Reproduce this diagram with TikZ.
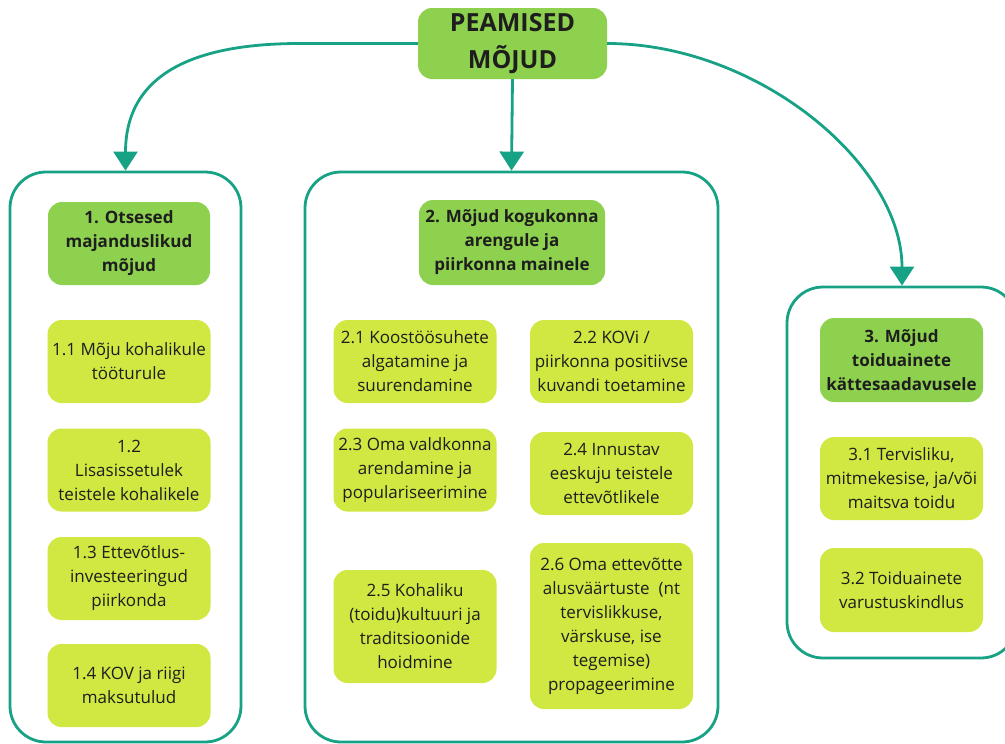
\documentclass[tikz,border=0pt]{standalone}
\usepackage{fontspec}
\setmainfont{Open Sans}
\usetikzlibrary{arrows.meta,positioning}

\definecolor{tealline}{HTML}{17A285}
\definecolor{headgreen}{HTML}{8ED14F}
\definecolor{limebox}{HTML}{D1E742}
\definecolor{inktext}{HTML}{1E1E1E}

\tikzset{conn/.style={draw=tealline,line width=2.8pt,
	-{Triangle[width=24pt,length=19pt]}}}

\begin{document}
\begin{tikzpicture}[x=1pt,y=-1pt]
			\clip (0,0) rectangle (1005,744);

			% group frames
			\begin{scope}[every node/.style={draw=tealline,line width=2.8pt,fill=white,
				rounded corners=36pt,inner sep=0pt}]
				\node[minimum width=231pt,minimum height=570pt] (G1) at (125.5,457) {};
				\node[minimum width=413pt,minimum height=570pt] (G2) at (511.5,457) {};
				\node[minimum width=230pt,minimum height=371pt] (G3) at (902,472.5) {};
			\end{scope}

			% main and group headers
			\begin{scope}[every node/.style={fill=headgreen,rounded corners=14pt,inner sep=0pt,
				align=center,text=inktext,font=\bfseries\fontsize{17}{24}\selectfont}]
				\node[minimum width=189pt,minimum height=71pt,
					font=\bfseries\fontsize{25}{37}\selectfont] (top) at (512.5,43.5) {PEAMISED\\MÕJUD};
				\node[minimum width=162pt,minimum height=83pt] (H1) at (129,243.5) {1. Otsesed\\majanduslikud\\mõjud};
				\node[minimum width=186pt,minimum height=85pt] (H2) at (512,242.5) {2. Mõjud kogukonna\\arengule ja\\piirkonna mainele};
				\node[minimum width=163pt,minimum height=84pt] (H3) at (901.5,360) {3. Mõjud\\toiduainete\\kättesaadavusele};
			\end{scope}

			% sub boxes
			\begin{scope}[every node/.style={fill=limebox,rounded corners=14pt,inner sep=0pt,
				minimum width=163pt,minimum height=83pt,
				align=center,text=inktext,font=\fontsize{17}{24}\selectfont}]
				\node (A1) at (129,361.5) {1.1 Mõju kohalikule\\tööturule};
				\node (A2) at (129,470) {1.2\\Lisasissetulek\\teistele kohalikele};
				\node (A3) at (129,578.5) {1.3 Ettevõtlus-\\investeeringud\\piirkonda};
				\node (A4) at (129,685.5) {1.4 KOV ja riigi\\maksutulud};
				\node (B1) at (415,361.5) {2.1 Koostöösuhete\\algatamine ja\\suurendamine};
				\node (B2) at (611.5,361.5) {2.2 KOVi /\\piirkonna positiivse\\kuvandi toetamine};
				\node (B3) at (415,470) {2.3 Oma valdkonna\\arendamine ja\\populariseerimine};
				\node (B4) at (611.5,473.5) {2.4 Innustav\\eeskuju teistele\\ettevõtlikele};
				\node[minimum height=113pt] (B5) at (415,626.5) {2.5 Kohaliku\\(toidu)kultuuri ja\\traditsioonide\\hoidmine};
				\node[minimum height=166pt] (B6) at (611.5,626) {2.6 Oma ettevõtte\\alusväärtuste~ (nt\\tervislikkuse,\\värskuse, ise\\tegemise)\\propageerimine};
				\node (C1) at (901.5,478.5) {3.1 Tervisliku,\\mitmekesise, ja/või\\maitsva toidu};
				\node[minimum height=84pt] (C2) at (901.5,590) {3.2 Toiduainete\\varustuskindlus};
			\end{scope}

			% connectors
			\draw[conn] (top.south) -- (G2.north);
			\draw[conn] (top.west) -- ++(-118,0) .. controls +(-100,0) and +(0,-100) .. (G1.north);
			\draw[conn] (top.east) .. controls +(150,0) and +(0,-122) .. (G3.north);
		\end{tikzpicture}
\end{document}
